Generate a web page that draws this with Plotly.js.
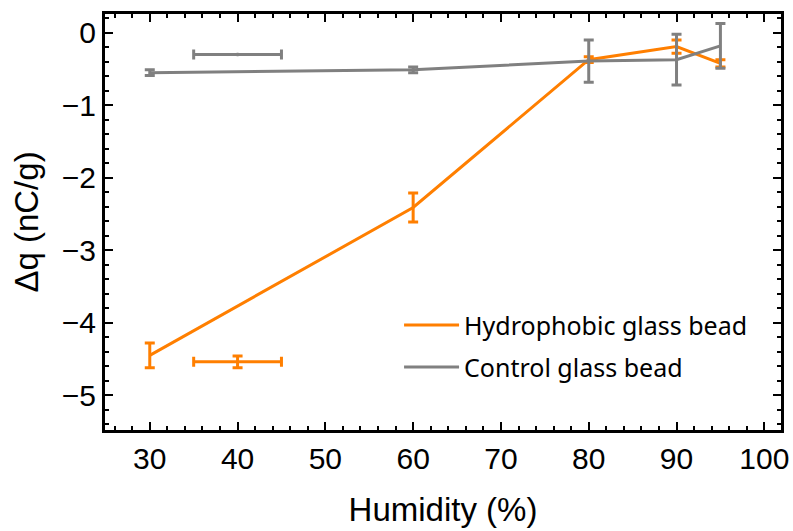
<!DOCTYPE html>
<html>
<head>
<meta charset="utf-8">
<script src="https://cdn.plot.ly/plotly-3.0.1.min.js"></script>
<style>html,body{margin:0;padding:0;background:#fff;}#chart{width:793px;height:531px;}</style>
</head>
<body>
<div id="chart"></div>
<script>
// Data
const humidity = [30, 60, 80, 90, 95];
const hydrophobicDq = [-4.45, -2.41, -0.37, -0.19, -0.42];
const hydrophobicErr = [0.17, 0.20, 0.04, 0.09, 0.05];
const controlDq = [-0.55, -0.51, -0.39, -0.37, -0.18];
const controlErr = [0.04, 0.04, 0.29, 0.35, 0.31];

// Stand-alone humidity-uncertainty markers
const hydroRefX = [40];
const hydroRefY = [-4.54];
const hydroRefErrX = [5];
const hydroRefErrY = [0.08];
const ctrlRefX = [40];
const ctrlRefY = [-0.30];
const ctrlRefErrX = [5];
const ctrlRefErrY = [0.01];

const xTicks = [30, 40, 50, 60, 70, 80, 90, 100];
const yTicks = [0, -1, -2, -3, -4, -5];

const ORANGE = '#FF7F00';
const GRAY = '#808080';
const AXFONT = 'Liberation Sans';

const traces = [
  {
    x: humidity, y: hydrophobicDq, type: 'scatter', mode: 'lines',
    name: 'Hydrophobic glass bead',
    line: {color: ORANGE, width: 3},
    error_y: {type: 'data', array: hydrophobicErr, visible: true, color: ORANGE, thickness: 3, width: 5},
    legend: 'legend'
  },
  {
    x: humidity, y: controlDq, type: 'scatter', mode: 'lines',
    name: 'Control glass bead',
    line: {color: GRAY, width: 3},
    error_y: {type: 'data', array: controlErr, visible: true, color: GRAY, thickness: 3, width: 5},
    legend: 'legend2'
  },
  {
    x: hydroRefX, y: hydroRefY, type: 'scatter', mode: 'lines', showlegend: false,
    line: {color: ORANGE, width: 3},
    error_x: {type: 'data', array: hydroRefErrX, visible: true, color: ORANGE, thickness: 3, width: 5},
    error_y: {type: 'data', array: hydroRefErrY, visible: true, color: ORANGE, thickness: 3, width: 5}
  },
  {
    x: ctrlRefX, y: ctrlRefY, type: 'scatter', mode: 'lines', showlegend: false,
    line: {color: GRAY, width: 3},
    error_x: {type: 'data', array: ctrlRefErrX, visible: true, color: GRAY, thickness: 3, width: 5},
    error_y: {type: 'data', array: ctrlRefErrY, visible: true, color: GRAY, thickness: 2, width: 1}
  }
];

const axisCommon = {
  showline: true, linecolor: '#000', linewidth: 3, mirror: 'allticks',
  ticks: 'inside', ticklen: 8, tickwidth: 2, tickcolor: '#000',
  showgrid: false, zeroline: false,
  tickfont: {family: AXFONT, size: 30, color: '#000'}
};

const legendFont = {family: 'Noto Sans', size: 25, color: '#000'};

const layout = {
  width: 793, height: 531,
  margin: {l: 105, r: 12, t: 14, b: 101},
  paper_bgcolor: '#fff', plot_bgcolor: '#fff',
  xaxis: Object.assign({}, axisCommon, {
    range: [24.9, 101.9], tickmode: 'array', tickvals: xTicks, ticktext: xTicks.map(String),
    minor: {dtick: 2, ticks: 'inside', ticklen: 4, tickwidth: 2, tickcolor: '#000'},
    title: {text: 'Humidity (%)', font: {family: AXFONT, size: 33, color: '#000'}, standoff: 24}
  }),
  yaxis: Object.assign({}, axisCommon, {
    range: [-5.48, 0.26], tickmode: 'array', tickvals: yTicks, ticktext: yTicks.map(v => v < 0 ? '\u2212' + Math.abs(v) : String(v)),
    minor: {dtick: 0.2, ticks: 'inside', ticklen: 4, tickwidth: 2, tickcolor: '#000'},
    title: {text: 'Δq (nC/g)', font: {family: AXFONT, size: 33, color: '#000'}, standoff: 14}
  }),
  legend: {
    x: 0.435, y: 0.252, xanchor: 'left', yanchor: 'middle', itemwidth: 55,
    bgcolor: 'rgba(0,0,0,0)', borderwidth: 0, font: legendFont
  },
  legend2: {
    x: 0.435, y: 0.151, xanchor: 'left', yanchor: 'middle', itemwidth: 55,
    bgcolor: 'rgba(0,0,0,0)', borderwidth: 0, font: legendFont
  },
  showlegend: true
};

Plotly.newPlot('chart', traces, layout, {displayModeBar: false, staticPlot: true});
</script>
</body>
</html>
